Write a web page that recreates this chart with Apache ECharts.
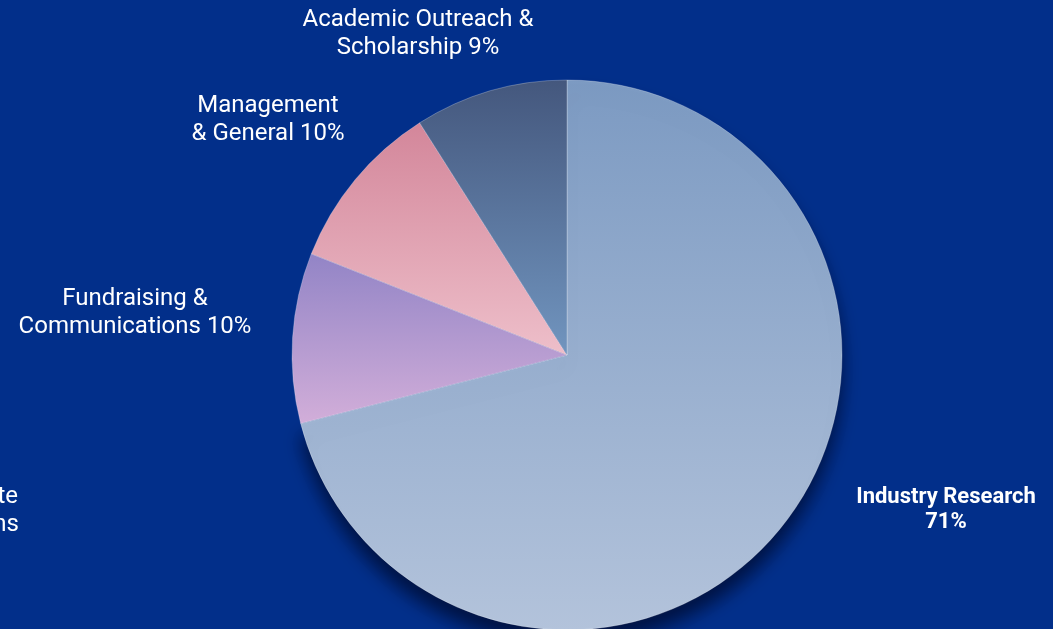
<!DOCTYPE html>
<html>
<head>
<meta charset="utf-8">
<script src="https://cdn.jsdelivr.net/npm/echarts@6.0.0/dist/echarts.min.js"></script>
<style>
  html, body { margin: 0; padding: 0; background: #022f8a; }
  #main { width: 1053px; height: 629px; }
</style>
</head>
<body>
<div id="main"></div>
<script>
// 数据
const categories = ["Industry Research", "Fundraising &\nCommunications", "Management\n& General", "Academic Outreach &\nScholarship"];
const shares = [71, 10, 10, 9];

// 每块的渐变色（上 -> 下）
const sliceColors = [
    ["#7c9ac2", "#b3c3db"],
    ["#9284c6", "#d2aed9"],
    ["#d3869a", "#eebfca"],
    ["#44577d", "#7195bf"],
];
// 标签位置（中心点）
const labelPos = [
    [946, 510],
    [135, 313],
    [268, 120],
    [418, 34],
];

const chart = echarts.init(document.getElementById("main"));
chart.setOption({
    backgroundColor: "#022f8a",
    animation: false,
    series: [
        {
            type: "pie",
            center: [567, 355],
            radius: 275,
            startAngle: 90,
            clockwise: true,
            data: categories.map((name, i) => ({
                name: name,
                value: shares[i],
                itemStyle: {
                    color: {
                        type: "linear",
                        x: 0, y: 0, x2: 0, y2: 1,
                        colorStops: [
                            { offset: 0, color: sliceColors[i][0] },
                            { offset: 1, color: sliceColors[i][1] },
                        ],
                    },
                    // 只给最大块加阴影，避免块之间出现暗线
                    shadowColor: i === 0 ? "rgba(0,0,20,0.6)" : "transparent",
                    shadowBlur: i === 0 ? 18 : 0,
                    shadowOffsetY: i === 0 ? 14 : 0,
                },
                label: i === 0 ? {
                    fontWeight: "bold",
                    fontSize: 22,
                    lineHeight: 25,
                    formatter: "{b}\n{c}%",
                } : {},
            })),
            itemStyle: {
                borderColor: "rgba(255,255,255,0.25)",
                borderWidth: 1,
            },
            label: {
                show: true,
                position: "outside",
                color: "#ffffff",
                fontFamily: "Roboto",
                fontWeight: 400,
                fontSize: 24,
                lineHeight: 28,
                align: "center",
                overflow: "none",
                formatter: "{b} {c}%",
            },
            labelLine: { show: false },
            labelLayout: (params) => ({
                x: labelPos[params.dataIndex][0],
                y: labelPos[params.dataIndex][1],
                align: "center",
                verticalAlign: "middle",
            }),
            emphasis: { disabled: true },
        },
    ],
    graphic: [
        // 左侧被裁掉的标签
        {
            type: "text",
            right: 1053 - 18,
            top: 485,
            style: {
                text: "Corporate",
                fill: "#ffffff",
                font: "400 24px Roboto",
                textAlign: "right",
            },
        },
        {
            type: "text",
            right: 1053 - 19,
            top: 513,
            style: {
                text: "Relations",
                fill: "#ffffff",
                font: "400 24px Roboto",
                textAlign: "right",
            },
        },
    ],
});
window.addEventListener("resize", () => chart.resize());
</script>
</body>
</html>
